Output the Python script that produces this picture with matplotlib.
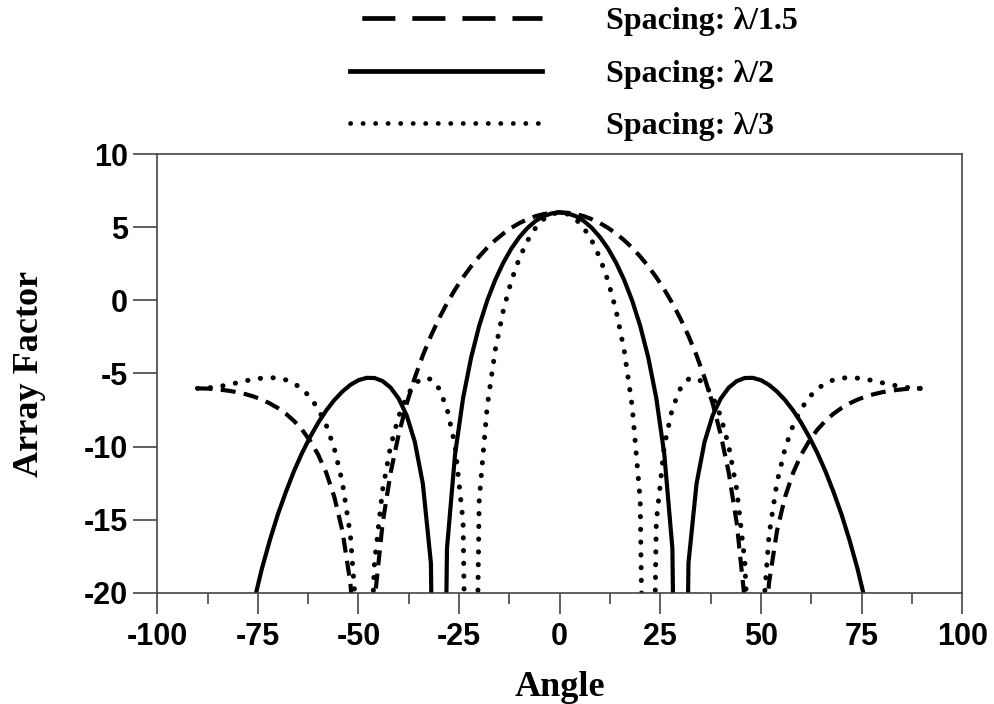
import matplotlib
matplotlib.use("Agg")
import matplotlib.pyplot as plt
from matplotlib.ticker import MultipleLocator
from matplotlib.font_manager import FontProperties

plt.rcParams['axes.unicode_minus'] = False

# angles in degrees, 2 degree steps from -90 to 90
angle = list(range(-90, 91, 2))

# spacing lambda/1.5 (dashed)
af_dashed = [
    -6.02, -6.03, -6.06, -6.12, -6.19, -6.29, -6.42, -6.58, -6.79, -7.05,
    -7.37, -7.76, -8.25, -8.85, -9.61, -10.56, -11.79, -13.44, -15.75, -19.34,
    -26.64, -33.8, -20.57, -15.25, -11.78, -9.16, -7.05, -5.29, -3.76, -2.43,
    -1.25, -0.20, 0.74, 1.58, 2.33, 3.00, 3.60, 4.12, 4.57, 4.96,
    5.29, 5.55, 5.76, 5.90, 5.99, 6.02, 5.99, 5.90, 5.76, 5.55,
    5.29, 4.96, 4.57, 4.12, 3.60, 3.00, 2.33, 1.58, 0.74, -0.20,
    -1.25, -2.43, -3.76, -5.29, -7.05, -9.16, -11.78, -15.25, -20.57, -33.8,
    -26.64, -19.34, -15.75, -13.44, -11.79, -10.56, -9.61, -8.85, -8.25, -7.76,
    -7.37, -7.05, -6.79, -6.58, -6.42, -6.29, -6.19, -6.12, -6.06, -6.03,
    -6.02,
]

# spacing lambda/2 (solid)
af_solid = [
    -60.0, -54.4, -42.3, -35.4, -30.26, -26.42, -23.27, -20.65, -18.36, -16.39,
    -14.62, -13.08, -11.67, -10.43, -9.34, -8.37, -7.53, -6.82, -6.24, -5.78,
    -5.46, -5.30, -5.31, -5.52, -5.97, -6.72, -7.88, -9.67, -12.54, -17.96,
    -60.0, -16.96, -10.54, -6.68, -3.90, -1.74, -0.01, 1.41, 2.58, 3.55,
    4.33, 4.95, 5.43, 5.76, 5.95, 6.02, 5.95, 5.76, 5.43, 4.95,
    4.33, 3.55, 2.58, 1.41, -0.01, -1.74, -3.90, -6.68, -10.54, -16.96,
    -60.0, -17.96, -12.54, -9.67, -7.88, -6.72, -5.97, -5.52, -5.31, -5.30,
    -5.46, -5.78, -6.24, -6.82, -7.53, -8.37, -9.34, -10.43, -11.67, -13.08,
    -14.62, -16.39, -18.36, -20.65, -23.27, -26.42, -30.26, -35.4, -42.3, -54.4,
    -60.0,
]

# spacing lambda/3 (dotted)
af_dotted = [
    -6.02, -6.00, -5.95, -5.86, -5.75, -5.63, -5.50, -5.39, -5.32, -5.28,
    -5.32, -5.44, -5.68, -6.06, -6.62, -7.43, -8.54, -10.13, -12.43, -16.08,
    -23.50, -30.87, -17.90, -12.95, -9.96, -7.93, -6.56, -5.70, -5.31, -5.39,
    -6.02, -7.39, -9.93, -15.15, -53.1, -13.65, -7.22, -3.38, -0.68, 1.35,
    2.90, 4.08, 4.95, 5.55, 5.90, 6.02, 5.90, 5.55, 4.95, 4.08,
    2.90, 1.35, -0.68, -3.38, -7.22, -13.65, -53.1, -15.15, -9.93, -7.39,
    -6.02, -5.39, -5.31, -5.70, -6.56, -7.93, -9.96, -12.95, -17.90, -30.87,
    -23.50, -16.08, -12.43, -10.13, -8.54, -7.43, -6.62, -6.06, -5.68, -5.44,
    -5.32, -5.28, -5.32, -5.39, -5.50, -5.63, -5.75, -5.86, -5.95, -6.00,
    -6.02,
]

labels = ["Spacing: \u03bb/1.5", "Spacing: \u03bb/2", "Spacing: \u03bb/3"]

tick_font = FontProperties(family="Liberation Sans", weight="bold", size=22)
label_font = {"family": "Liberation Serif", "weight": "bold", "size": 26}

fig = plt.figure(figsize=(9.95, 7.04), dpi=100)
ax = fig.add_axes([0.158, 0.158, 0.809, 0.623])

lw = 3.0
ax.plot(angle, af_dashed, color="black", lw=lw, linestyle=(0, (3.6, 2.0)),
        label=labels[0])
ax.plot(angle, af_solid, color="black", lw=lw, linestyle="-", label=labels[1])
ax.plot(angle, af_dotted, color="black", lw=3.6, linestyle=(0, (0.05, 2.5)),
        dash_capstyle="round", label=labels[2])

ax.set_xlim(-100, 100)
ax.set_ylim(-20, 10)
ax.xaxis.set_major_locator(MultipleLocator(25))
ax.xaxis.set_minor_locator(MultipleLocator(12.5))
ax.yaxis.set_major_locator(MultipleLocator(5))

for side in ["top", "right", "left", "bottom"]:
    ax.spines[side].set_color("#444444")
    ax.spines[side].set_linewidth(1.2)

ax.tick_params(axis="x", which="major", direction="out", length=15, width=1.2,
               color="#444444", pad=6)
ax.tick_params(axis="x", which="minor", direction="out", length=8, width=1.2,
               color="#444444")
ax.tick_params(axis="y", which="major", direction="out", length=17, width=1.2,
               color="#444444", pad=4)

for t in ax.get_xticklabels() + ax.get_yticklabels():
    t.set_fontproperties(tick_font)

ax.set_xlabel("Angle", fontdict=label_font, labelpad=14)
ax.set_ylabel("Array Factor", fontdict=label_font, labelpad=27)

leg = fig.legend(loc="upper left", bbox_to_anchor=(0.352, 0.990),
                 frameon=False, handlelength=6.0, handletextpad=2.0,
                 labelspacing=0.72, borderpad=0, borderaxespad=0,
                 prop={"family": "Liberation Serif", "weight": "bold", "size": 23})
# legend keys use longer dashes than the curves
leg_lines = leg.get_lines()
leg_lines[0].set_linestyle((8.1, (7.0, 3.6)))
leg_lines[0].set_linewidth(3.4)
leg_lines[1].set_linewidth(3.4)
leg_lines[2].set_dashes((0.05, 2.6))
leg_lines[2].set_linewidth(3.4)

fig.savefig("out.png", dpi=100)
